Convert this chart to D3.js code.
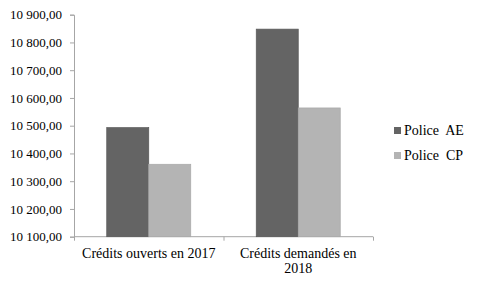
<!DOCTYPE html>
<html>
<head>
<meta charset="utf-8">
<script src="https://cdn.jsdelivr.net/npm/d3@7"></script>
<style>
  body { margin: 0; background: #fff; }
</style>
</head>
<body>
<div id="chart"></div>
<script>
const categories = ["Crédits ouverts en 2017", "Crédits demandés en 2018"];
const seriesNames = ["Police  AE", "Police  CP"];
const policeAE = [10493, 10848];
const policeCP = [10361, 10564];
const yTicks = [10100, 10200, 10300, 10400, 10500, 10600, 10700, 10800, 10900];

const colors = ["#646464", "#b4b4b4"];
const font = "Liberation Serif";

const width = 480, height = 288;
const margin = {top: 14.7, left: 74, right: 107, bottom: 51.3};
const innerW = width - margin.left - margin.right,
    innerH = height - margin.top - margin.bottom;

const root = d3.select("#chart")
    .append("svg")
    .attr("width", width)
    .attr("height", height)
    .attr("font-family", font);

const svg = root.append("g")
    .attr("transform", `translate(${margin.left},${margin.top})`);

const x0 = d3.scaleBand()
    .domain(categories)
    .range([0, innerW])
    .paddingInner(0.438)
    .paddingOuter(0.219);

const x1 = d3.scaleBand()
    .domain(seriesNames)
    .range([0, x0.bandwidth()]);

const y = d3.scaleLinear()
    .domain([10100, 10900])
    .range([innerH, 0]);

const fmt = v => d3.format(",.2f")(v).replace(",", " ").replace(".", ",");

// Y axis
const yAxis = svg.append("g")
    .call(d3.axisLeft(y).tickValues(yTicks).tickSize(4).tickPadding(8).tickFormat(fmt))
    .attr("font-family", font)
    .attr("font-size", 13);
yAxis.selectAll("text").attr("fill", "#000");
yAxis.select(".domain").attr("stroke", "#a6a6a6");
yAxis.selectAll(".tick line").attr("stroke", "#a6a6a6");

// X axis with ticks at category boundaries
const xg = svg.append("g").attr("transform", `translate(0,${innerH})`);
xg.append("line")
    .attr("x1", 0).attr("x2", innerW)
    .attr("stroke", "#a6a6a6");
const step = x0.step();
xg.selectAll(".sep")
    .data(d3.range(categories.length + 1))
    .join("line")
    .attr("x1", i => i * step + 0.5)
    .attr("x2", i => i * step + 0.5)
    .attr("y1", 0).attr("y2", 4)
    .attr("stroke", "#a6a6a6");

// category labels, wrapped to band width
xg.selectAll(".cat")
    .data(categories)
    .join("text")
    .attr("class", "cat")
    .attr("text-anchor", "middle")
    .attr("font-size", 14)
    .attr("x", d => x0(d) + x0.bandwidth() / 2)
    .attr("y", 21)
    .each(function (d) {
        const t = d3.select(this);
        const words = d.split(" ");
        let line = [];
        let tspan = t.append("tspan").attr("x", t.attr("x")).attr("dy", 0);
        for (const w of words) {
            line.push(w);
            tspan.text(line.join(" "));
            if (tspan.node().getComputedTextLength() > step - 8 && line.length > 1) {
                line.pop();
                tspan.text(line.join(" "));
                line = [w];
                tspan = t.append("tspan").attr("x", t.attr("x")).attr("dy", 15).text(w);
            }
        }
    });

// Bars
const data = categories.map((c, i) => ({cat: c, values: [policeAE[i], policeCP[i]]}));
svg.selectAll(".grp")
    .data(data)
    .join("g")
    .attr("transform", d => `translate(${x0(d.cat)},0)`)
    .selectAll("rect")
    .data(d => d.values.map((v, j) => ({name: seriesNames[j], value: v, j: j})))
    .join("rect")
    .attr("x", d => x1(d.name))
    .attr("y", d => y(d.value))
    .attr("width", x1.bandwidth())
    .attr("height", d => innerH - y(d.value))
    .attr("fill", d => colors[d.j])
    .attr("stroke", d => d.j === 0 ? "#585858" : "#a8a8a8")
    .attr("stroke-width", 0.7);

// Legend
const legend = root.append("g")
    .attr("transform", "translate(394,125)");
const items = legend.selectAll("g")
    .data(seriesNames)
    .join("g")
    .attr("transform", (d, i) => `translate(0,${i * 25})`);
items.append("rect")
    .attr("width", 7).attr("height", 7)
    .attr("y", 2)
    .attr("fill", (d, i) => colors[i]);
items.append("text")
    .attr("x", 10)
    .attr("y", 10)
    .attr("font-size", 14)
    .attr("xml:space", "preserve")
    .style("white-space", "pre")
    .text(d => d);
</script>
</body>
</html>
